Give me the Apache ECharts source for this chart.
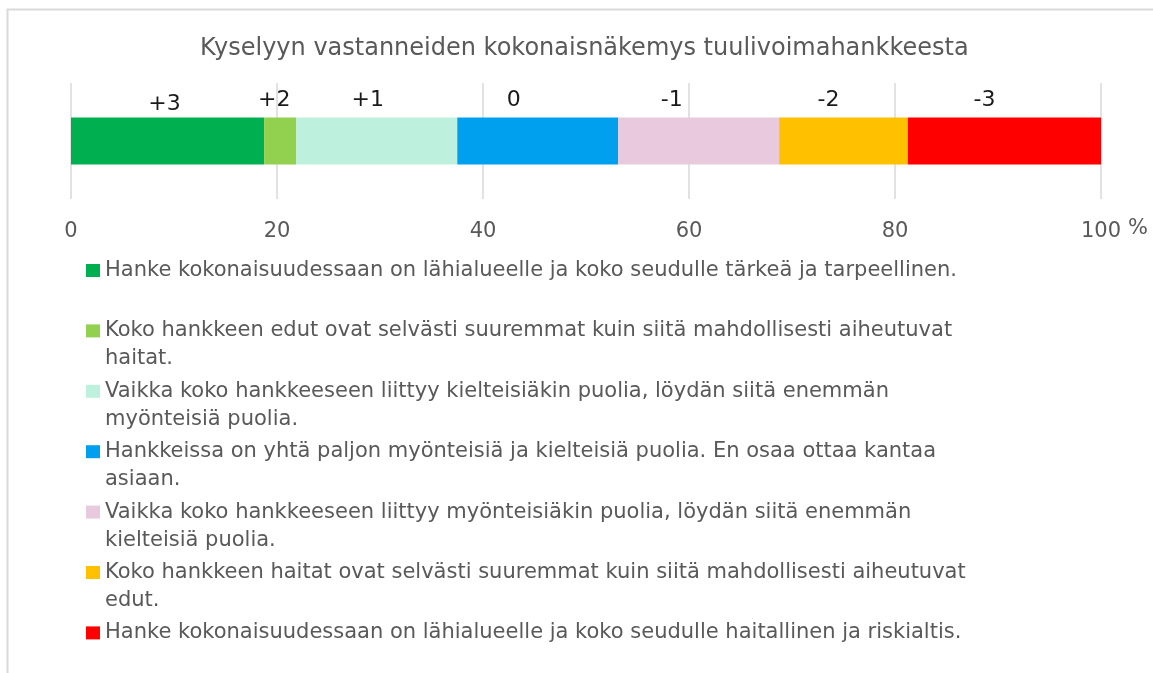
<!DOCTYPE html>
<html>
<head>
<meta charset="utf-8">
<script src="https://cdn.jsdelivr.net/npm/echarts@6/dist/echarts.min.js"></script>
<style>
  html, body { margin: 0; padding: 0; background: #fff; }
  #chart { width: 1153px; height: 673px; }
</style>
</head>
<body>
<div id="chart"></div>
<script>
const titleText = 'Kyselyyn vastanneiden kokonaisnäkemys tuulivoimahankkeesta';
const scaleCodes = ['+3', '+2', '+1', '0', '-1', '-2', '-3'];
const answers = [
  'Hanke kokonaisuudessaan on lähialueelle ja koko seudulle tärkeä ja tarpeellinen.',
  'Koko hankkeen edut ovat selvästi suuremmat kuin siitä mahdollisesti aiheutuvat haitat.',
  'Vaikka koko hankkeeseen liittyy kielteisiäkin puolia, löydän siitä enemmän myönteisiä puolia.',
  'Hankkeissa on yhtä paljon myönteisiä ja kielteisiä puolia. En osaa ottaa kantaa asiaan.',
  'Vaikka koko hankkeeseen liittyy myönteisiäkin puolia, löydän siitä enemmän kielteisiä puolia.',
  'Koko hankkeen haitat ovat selvästi suuremmat kuin siitä mahdollisesti aiheutuvat edut.',
  'Hanke kokonaisuudessaan on lähialueelle ja koko seudulle haitallinen ja riskialtis.'
];
const shares = [18.75, 3.125, 15.625, 15.625, 15.625, 12.5, 18.75];
const colors = ['#00B050', '#92D050', '#BDF1DE', '#00A0EE', '#E8C9DD', '#FFC000', '#FF0000'];
const axisMin = 0;
const axisMax = 100;
const axisStep = 20;

// the labels above the bar are not centred on their segments in the original
const labelNudge = [[-3, 4], [-6, 0], [-9, 0], [-24, 0], [-27, 0], [-15, 0], [-20, 0]];

const FONT = '"DejaVu Sans", Verdana, sans-serif';
const legendSize = 21;
const legendWrap = 885;
const lineH = 28;

// wrap legend text ourselves so the icon can sit next to the first line
const ctx = document.createElement('canvas').getContext('2d');
ctx.font = legendSize + 'px "DejaVu Sans"';
function wrap(text) {
  const lines = [];
  let cur = '';
  text.split(' ').forEach(w => {
    const test = cur ? cur + ' ' + w : w;
    if (ctx.measureText(test).width > legendWrap && cur) { lines.push(cur); cur = w; }
    else cur = test;
  });
  lines.push(cur);
  return lines;
}

const chart = echarts.init(document.getElementById('chart'));

const series = answers.map((name, i) => ({
  name: name,
  type: 'bar',
  stack: 'all',
  barWidth: 47,
  data: [shares[i]],
  itemStyle: { color: colors[i] },
  label: {
    show: true,
    position: 'top',
    distance: 6,
    offset: labelNudge[i],
    formatter: scaleCodes[i],
    color: '#1a1a1a',
    fontSize: 22,
    fontFamily: FONT
  }
}));

const legends = answers.map((name, i) => {
  const n = wrap(name).length;
  const h = 13 + (n - 1) * lineH;
  return {
    data: [name],
    left: 86,
    top: 256.5 + i * 60.4,
    orient: 'vertical',
    padding: 0,
    // square at the top, empty space below so the text block lines up with it
    icon: n > 1 ? 'path://M0,0L14,0L14,13L0,13Z M0,' + h : 'rect',
    itemWidth: 14,
    itemHeight: h,
    itemGap: 0,
    formatter: nm => wrap(nm).join('\n'),
    textStyle: {
      color: '#595959',
      fontSize: legendSize,
      fontFamily: FONT,
      lineHeight: lineH
    }
  };
});

chart.setOption({
  animation: false,
  title: {
    text: titleText,
    left: 195,
    top: 32,
    textStyle: { color: '#595959', fontSize: 24, fontWeight: 'normal', fontFamily: FONT }
  },
  graphic: [{
    type: 'rect',
    silent: true,
    z: -10,
    shape: { x: 7.5, y: 9.5, width: 1200, height: 720 },
    style: { fill: 'none', stroke: '#d9d9d9', lineWidth: 2 }
  }],
  legend: legends,
  grid: { left: 71, right: 52, top: 83, height: 116, containLabel: false },
  xAxis: {
    type: 'value',
    min: axisMin,
    max: axisMax,
    interval: axisStep,
    name: '%',
    nameLocation: 'end',
    nameGap: 27,
    nameTextStyle: { color: '#595959', fontSize: 21, fontFamily: FONT, verticalAlign: 'top', padding: [19, 0, 0, 0] },
    axisLine: { show: false },
    axisTick: { show: false },
    splitLine: { lineStyle: { color: '#d9d9d9', width: 1.5 } },
    axisLabel: { color: '#595959', fontSize: 21, fontFamily: FONT, margin: 22 }
  },
  yAxis: {
    type: 'category',
    data: [''],
    show: false
  },
  series: series
});
</script>
</body>
</html>
